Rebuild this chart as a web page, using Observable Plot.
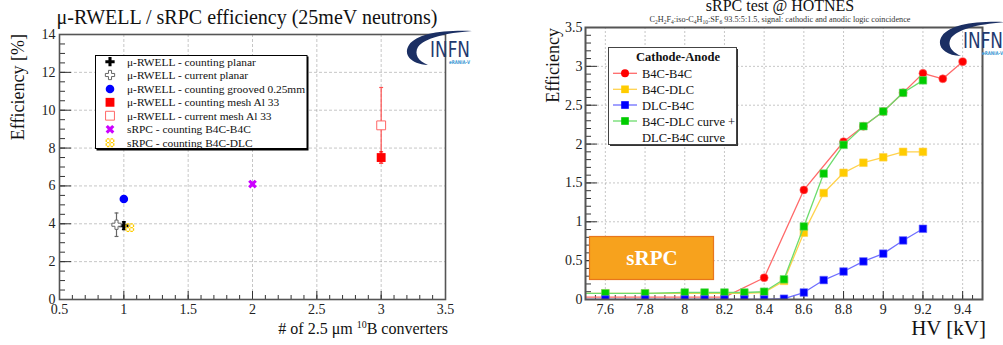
<!DOCTYPE html>
<html><head><meta charset="utf-8">
<script src="https://cdn.jsdelivr.net/npm/d3@7"></script>
<script src="https://cdn.jsdelivr.net/npm/@observablehq/plot@0.6"></script>
<style>
body{margin:0;background:#fff;}
#wrap{position:relative;width:1003px;height:345px;overflow:hidden;font-family:"Liberation Serif",serif;}
#wrap svg{position:absolute;top:0;}
#wrap svg text{font-family:"Liberation Serif",serif;}
</style></head><body><div id="wrap"></div>
<script>
// ---------- Left panel data ----------
const leftNames = [
  "μ-RWELL - counting planar",
  "μ-RWELL - current planar",
  "μ-RWELL - counting grooved 0.25mm",
  "μ-RWELL - counting mesh  Al 33",
  "μ-RWELL - current mesh  Al 33",
  "sRPC - counting B4C-B4C",
  "sRPC - counting B4C-DLC"
];
const leftX   = [1.0, 0.943, 1.0, 3.0, 3.0, 2.0, 1.046];
const leftY   = [3.9, 3.95, 5.31, 7.5, 9.2, 6.1, 3.8];
const leftErr = [0.2, 0.62, 0, 0.3, 2.0, 0, 0];
const leftXTicks = [0.5, 1, 1.5, 2, 2.5, 3, 3.5];
const leftYTicks = [0, 2, 4, 6, 8, 10, 12, 14];

// ---------- Right panel data ----------
const seriesNames = ["B4C-B4C", "B4C-DLC", "DLC-B4C", "B4C-DLC curve +"];
const redHV   = [7.4, 7.6, 7.8, 8.0, 8.1, 8.2, 8.4, 8.6, 8.8, 8.9, 9.0, 9.1, 9.2, 9.3, 9.4];
const redEff  = [0.03, 0.03, 0.03, 0.03, 0.03, 0.03, 0.28, 1.41, 2.03, 2.23, 2.42, 2.66, 2.91, 2.84, 3.06];
const yelHV   = [7.4, 7.6, 7.8, 8.0, 8.1, 8.2, 8.3, 8.4, 8.5, 8.6, 8.7, 8.8, 8.9, 9.0, 9.1, 9.2];
const yelEff  = [0.08, 0.08, 0.08, 0.08, 0.08, 0.08, 0.08, 0.09, 0.24, 0.86, 1.37, 1.63, 1.76, 1.83, 1.9, 1.9];
const bluHV   = [7.4, 7.6, 7.8, 8.0, 8.1, 8.2, 8.3, 8.4, 8.5, 8.6, 8.7, 8.8, 8.9, 9.0, 9.1, 9.2];
const bluEff  = [0.0, 0.0, 0.0, 0.0, 0.0, 0.0, 0.0, 0.0, 0.01, 0.09, 0.25, 0.36, 0.49, 0.59, 0.76, 0.91];
const grnHV   = [7.4, 7.6, 7.8, 8.0, 8.1, 8.2, 8.3, 8.4, 8.5, 8.6, 8.7, 8.8, 8.9, 9.0, 9.1, 9.2];
const grnEff  = [0.08, 0.08, 0.08, 0.09, 0.09, 0.09, 0.09, 0.1, 0.26, 0.94, 1.62, 1.99, 2.23, 2.42, 2.66, 2.82];
const rightXTicks = [7.6, 7.8, 8, 8.2, 8.4, 8.6, 8.8, 9, 9.2, 9.4];
const rightYTicks = [0, 0.5, 1, 1.5, 2, 2.5, 3, 3.5];

// ---------- helpers ----------
const hashSymbol = {
  draw(ctx, size) {
    const w = Math.sqrt(size) / 2, t = w * 0.28, o = w * 0.42;
    for (const cx of [-o, o]) { ctx.moveTo(cx - t, -w); ctx.lineTo(cx + t, -w); ctx.lineTo(cx + t, w); ctx.lineTo(cx - t, w); ctx.closePath(); }
    for (const cy of [-o, o]) { ctx.moveTo(-w, cy - t); ctx.lineTo(-w, cy + t); ctx.lineTo(w, cy + t); ctx.lineTo(w, cy - t); ctx.closePath(); }
  }
};
const capSymbol = { draw(ctx, size) { const w = Math.sqrt(size) / 2; ctx.moveTo(-w, 0); ctx.lineTo(w, 0); } };

const leftStyle = [
  {symbol: "cross", fill: "#000", stroke: "none", r: 3.9, rotate: 0, err: "#000"},
  {symbol: "cross", fill: "#fff", stroke: "#666", r: 3.9, rotate: 0, err: "#666"},
  {symbol: "circle", fill: "#0000ff", stroke: "none", r: 4.3, rotate: 0, err: "#00f"},
  {symbol: "square", fill: "#ff0000", stroke: "none", r: 5.0, rotate: 0, err: "#f00"},
  {symbol: "square", fill: "#fff", stroke: "#ff6666", r: 5.0, rotate: 0, err: "#ff5050"},
  {symbol: "cross", fill: "#cc00ff", stroke: "none", r: 3.9, rotate: 45, err: "#c0f"},
  {symbol: hashSymbol, fill: "#ffcc00", stroke: "none", r: 5.0, rotate: 0, err: "#fc0"}
];
const leftData = leftNames.map((n, i) => ({name: n, x: leftX[i], y: leftY[i], e: leftErr[i], ...leftStyle[i]}));
const leftErrData = leftData.filter(d => d.e > 0);
const leftCaps = leftErrData.flatMap(d => [{x: d.x, y: d.y - d.e, c: d.err}, {x: d.x, y: d.y + d.e, c: d.err}]);

const font = '"Liberation Serif", serif';
const LW = 386, LH = 265;
const left = Plot.plot({
  width: 500, height: 345,
  marginLeft: 59, marginRight: 55, marginTop: 34, marginBottom: 46,
  x: {domain: [0.5, 3.5]},
  y: {domain: [0, 14]},
  style: {fontFamily: font, fontSize: "14px", color: "#222", background: "transparent", left: "0px"},
  marks: [
    Plot.gridX(leftXTicks, {stroke: "#999", strokeOpacity: 0.7, strokeDasharray: "3,2", strokeWidth: 0.8}),
    Plot.gridY(leftYTicks, {stroke: "#999", strokeOpacity: 0.7, strokeDasharray: "3,2", strokeWidth: 0.8}),
    Plot.tickY(leftYTicks, {y: d => d, insetRight: LW - 12, stroke: "#333"}),
    Plot.tickY(d3.range(0, 14.01, 0.5), {y: d => d, insetRight: LW - 6, stroke: "#333"}),
    Plot.tickX(leftXTicks, {x: d => d, insetTop: LH - 8, stroke: "#333"}),
    Plot.tickX(d3.range(0.5, 3.51, 0.1), {x: d => d, insetTop: LH - 4, stroke: "#333"}),
    Plot.axisX(leftXTicks, {tickSize: 0, tickPadding: 5, tickFormat: d => String(d), label: null, fontFamily: font}),
    Plot.axisY(leftYTicks, {tickSize: 0, tickPadding: 4, tickFormat: d => String(d), label: null, fontFamily: font}),
    Plot.frame({stroke: "#555", strokeWidth: 1.6}),
    Plot.ruleX(leftErrData, {x: "x", y1: d => d.y - d.e, y2: d => d.y + d.e, stroke: d => d.err, strokeWidth: 1.2}),
    Plot.dot(leftCaps, {x: "x", y: "y", symbol: capSymbol, r: 2.2, stroke: d => d.c, strokeWidth: 1.2}),
    ...leftData.map(d => Plot.dot([d], {x: "x", y: "y", symbol: d.symbol, r: d.r, fill: d.fill, stroke: d.stroke, strokeWidth: 1, rotate: d.rotate}))
  ]
});

const RW = 397, RH = 272;
const series = [
  {hv: redHV, eff: redEff, line: "#ff6a6a", fill: "#ff0000", symbol: "circle", r: 4.0},
  {hv: yelHV, eff: yelEff, line: "#ffd24d", fill: "#ffcc00", symbol: "square", r: 4.3},
  {hv: grnHV, eff: grnEff, line: "#6ddc6d", fill: "#00cc00", symbol: "square", r: 4.3},
  {hv: bluHV, eff: bluEff, line: "#6f6fff", fill: "#0000ff", symbol: "square", r: 4.3}
];
const right = Plot.plot({
  width: 503, height: 345,
  marginLeft: 85, marginRight: 21, marginTop: 27, marginBottom: 46,
  x: {domain: [7.5, 9.5]},
  y: {domain: [0, 3.5]},
  style: {fontFamily: font, fontSize: "14px", color: "#222", background: "transparent", left: "500px"},
  marks: [
    Plot.gridX(rightXTicks, {stroke: "#999", strokeOpacity: 0.7, strokeDasharray: "2,2", strokeWidth: 0.8}),
    Plot.gridY(rightYTicks, {stroke: "#999", strokeOpacity: 0.7, strokeDasharray: "2,2", strokeWidth: 0.8}),
    Plot.tickY(rightYTicks, {y: d => d, insetRight: RW - 12, stroke: "#333"}),
    Plot.tickY(d3.range(0, 3.501, 0.1), {y: d => d, insetRight: RW - 6, stroke: "#333"}),
    Plot.tickX(rightXTicks, {x: d => d, insetTop: RH - 8, stroke: "#333"}),
    Plot.tickX(d3.range(7.5, 9.501, 0.05), {x: d => d, insetTop: RH - 4, stroke: "#333"}),
    Plot.axisX(rightXTicks, {tickSize: 0, tickPadding: 5, tickFormat: d => String(d), label: null, fontFamily: font}),
    Plot.axisY(rightYTicks, {tickSize: 0, tickPadding: 3, tickFormat: d => String(d), label: null, fontFamily: font}),
    ...series.flatMap(s => {
      const data = s.hv.map((h, i) => ({hv: h, eff: s.eff[i]}));
      return [
        Plot.line(data, {x: "hv", y: "eff", stroke: s.line, strokeWidth: 1.3, clip: true}),
        Plot.dot(data, {x: "hv", y: "eff", symbol: s.symbol, r: s.r, fill: s.fill, stroke: s.line, strokeWidth: 0.6, clip: true})
      ];
    }),
    Plot.frame({stroke: "#555", strokeWidth: 2})
  ]
});

const wrap = document.getElementById("wrap");
wrap.append(left, right);

// ---------- overlay: titles, labels, legends, logos ----------
const ov = d3.select(wrap).append("svg").attr("width", 1003).attr("height", 345)
  .style("left", "0px").style("font-family", font).style("white-space", "pre");

// left titles
ov.append("text").attr("x", 247).attr("y", 24).attr("text-anchor", "middle").attr("font-size", 20).attr("fill", "#111")
  .text("μ-RWELL / sRPC efficiency (25meV neutrons)");
ov.append("text").attr("transform", "translate(24,34) rotate(-90)").attr("text-anchor", "end").attr("font-size", 18).attr("fill", "#111")
  .text("Efficiency [%]");
const xl = ov.append("text").attr("x", 448).attr("y", 334).attr("text-anchor", "end").attr("font-size", 16).attr("fill", "#111");
xl.append("tspan").text("# of 2.5 μm ");
xl.append("tspan").attr("font-size", 10).attr("dy", -6).text("10");
xl.append("tspan").attr("dy", 6).text("B converters");

// right titles
ov.append("text").attr("x", 780).attr("y", 11).attr("text-anchor", "middle").attr("font-size", 16).attr("fill", "#111")
  .text("sRPC test @ HOTNES");
const st = ov.append("text").attr("x", 780).attr("y", 22).attr("text-anchor", "middle").attr("font-size", 8.2).attr("fill", "#333");
const sub = (t) => st.append("tspan").attr("font-size", 5.5).attr("dy", 2).text(t);
const nrm = (t) => st.append("tspan").attr("dy", -2).text(t);
st.append("tspan").text("C"); sub("2"); nrm("H"); sub("2"); nrm("F"); sub("4");
nrm(":iso-C"); sub("4"); nrm("H"); sub("10"); nrm(":SF"); sub("6");
nrm(" 93.5:5:1.5, signal: cathodic and anodic logic coincidence");
ov.append("text").attr("transform", "translate(559,28) rotate(-90)").attr("text-anchor", "end").attr("font-size", 18).attr("fill", "#111")
  .text("Efficiency");
ov.append("text").attr("x", 986).attr("y", 335).attr("text-anchor", "end").attr("font-size", 21).attr("fill", "#111")
  .text("HV [kV]");

// left legend
ov.append("rect").attr("x", 96.5).attr("y", 56.5).attr("width", 212).attr("height", 94).attr("fill", "#000");
ov.append("rect").attr("x", 95.5).attr("y", 55.5).attr("width", 211.5).attr("height", 93).attr("fill", "#fff").attr("stroke", "#000").attr("stroke-width", 1);
const lRows = [61.7, 75, 89, 102.3, 115.7, 129.3, 142.7];
leftData.forEach((d, i) => {
  const sym = typeof d.symbol === "string" ? {cross: d3.symbolCross, circle: d3.symbolCircle, square: d3.symbolSquare}[d.symbol] : d.symbol;
  ov.append("path").attr("d", d3.symbol(sym, Math.PI * d.r * d.r)())
    .attr("transform", `translate(110,${lRows[i]}) rotate(${d.rotate})`)
    .attr("fill", d.fill).attr("stroke", d.stroke === "none" ? null : d.stroke);
  ov.append("text").attr("x", 127).attr("y", lRows[i] + 4).attr("font-size", 11.4).attr("fill", "#111").text(d.name);
});

// right legend
ov.append("rect").attr("x", 610).attr("y", 49).attr("width", 128).attr("height", 97).attr("fill", "#333");
ov.append("rect").attr("x", 608.5).attr("y", 47.5).attr("width", 128).attr("height", 97).attr("fill", "#fff").attr("stroke", "#444").attr("stroke-width", 1);
ov.append("text").attr("x", 678).attr("y", 61).attr("text-anchor", "middle").attr("font-size", 12.5).attr("font-weight", "bold").attr("fill", "#111").text("Cathode-Anode");
const rRows = [73.3, 89.3, 105, 121];
const legOrder = [series[0], series[1], series[3], series[2]];
legOrder.forEach((s, i) => {
  ov.append("line").attr("x1", 613).attr("x2", 637).attr("y1", rRows[i]).attr("y2", rRows[i]).attr("stroke", s.line).attr("stroke-width", 1.3);
  ov.append("path").attr("d", d3.symbol(s.symbol === "circle" ? d3.symbolCircle : d3.symbolSquare, Math.PI * s.r * s.r)())
    .attr("transform", `translate(625,${rRows[i]})`).attr("fill", s.fill);
  ov.append("text").attr("x", 642).attr("y", rRows[i] + 4.5).attr("font-size", 12.5).attr("fill", "#111").text(seriesNames[i]);
});
ov.append("text").attr("x", 642).attr("y", 142).attr("font-size", 12.5).attr("fill", "#111").text("DLC-B4C curve");

// sRPC label box
ov.append("rect").attr("x", 589.5).attr("y", 236.5).attr("width", 124).attr("height", 43).attr("fill", "#f7a21d").attr("stroke", "#e8761c").attr("stroke-width", 1.2);
ov.append("text").attr("x", 652).attr("y", 265).attr("text-anchor", "middle").attr("font-size", 21).attr("font-weight", "bold").attr("fill", "#fff").text("sRPC");

// INFN logos
function logo(dx, dy) {
  const g = ov.append("g").attr("transform", `translate(${dx},${dy})`);
  g.append("path").attr("d", "M428,65 C410,64 403,54 409,45 C417,34 440,30 472,31 C445,33 425,38 418,47 C414,54 418,61 428,65 Z").attr("fill", "#1b2f63");
  g.append("text").attr("x", 430).attr("y", 57).style("font-family", "DejaVu Sans").attr("font-size", 21)
    .attr("textLength", 40).attr("lengthAdjust", "spacingAndGlyphs").attr("fill", "#1f3a70").text("INFN");
  g.append("text").attr("x", 449).attr("y", 64).style("font-family", "DejaVu Sans").attr("font-size", 5).attr("font-weight", "bold")
    .attr("textLength", 21).attr("lengthAdjust", "spacingAndGlyphs").attr("fill", "#3f9ad4").text("eRANIA-V");
}
logo(0, 0);
logo(533, -9);
</script></body></html>
